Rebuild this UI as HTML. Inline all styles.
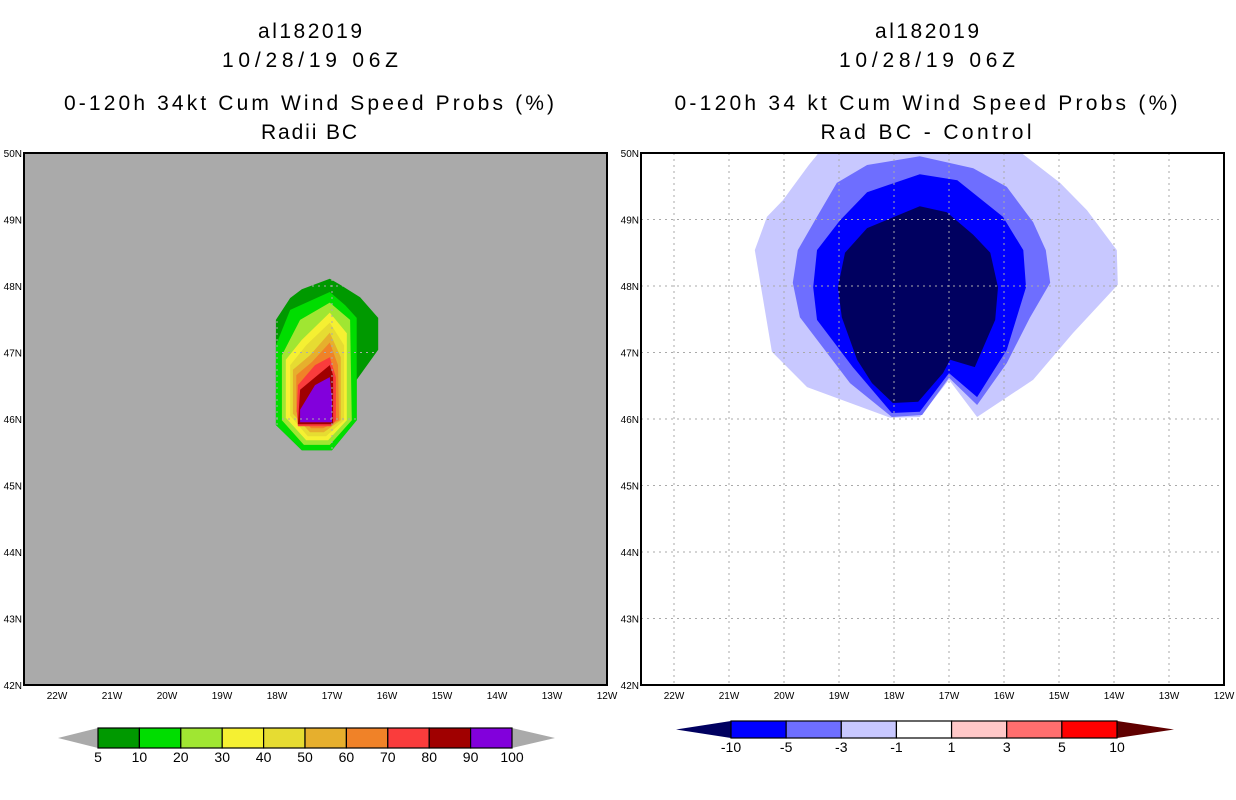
<!DOCTYPE html>
<html><head><meta charset="utf-8"><style>
html,body{margin:0;padding:0;background:#fff;}
svg{display:block;font-family:"Liberation Sans",sans-serif;}
</style></head><body>
<svg id="root" width="1236" height="800" viewBox="0 0 1236 800">
<g id="titles" font-size="21" fill="#000" text-anchor="middle">
<text x="310" y="38" textLength="104">al182019</text>
<text x="310" y="67" textLength="176">10/28/19 06Z</text>
<text x="309" y="110" textLength="490">0-120h 34kt Cum Wind Speed Probs (%)</text>
<text x="309" y="139" textLength="96">Radii BC</text>
<text x="927" y="38" textLength="104">al182019</text>
<text x="927" y="67" textLength="176">10/28/19 06Z</text>
<text x="926" y="110" textLength="503">0-120h 34 kt Cum Wind Speed Probs (%)</text>
<text x="926" y="139" textLength="211">Rad BC - Control</text>
</g>
<g id="left"></g>
<g id="right"></g>
<g id="cbars"></g>
</svg>
<script>
// axis tick data
const lonTicks = [22,21,20,19,18,17,16,15,14,13,12];
const latTicks = [50,49,48,47,46,45,44,43,42];
// left panel contour levels (lon W, lat N)
const leftColors = ["#009900","#00dd00","#a0e632","#f5f032","#e6dc32","#e6af2d","#f08228","#fa3c3c","#a00000","#8200dc"];
const leftLevels = [
 [[18.02,47.49],[17.76,47.82],[17.55,47.95],[17.04,48.11],[16.85,48.02],[16.49,47.83],[16.16,47.52],[16.16,47.04],[16.55,46.59],[16.55,45.98],[17.0,45.53],[17.55,45.53],[18.02,45.91]],
 [[18.02,47.11],[17.76,47.64],[17.04,47.91],[16.76,47.71],[16.55,47.52],[16.55,45.98],[17.0,45.53],[17.55,45.53],[18.02,45.91]],
 [[17.91,46.96],[17.58,47.49],[17.04,47.75],[16.67,47.49],[16.64,45.98],[17.04,45.61],[17.51,45.61],[17.91,45.98]],
 [[17.84,46.89],[17.55,47.19],[17.04,47.6],[16.73,47.29],[16.73,45.98],[17.07,45.68],[17.47,45.68],[17.84,46.02]],
 [[17.76,46.81],[17.47,47.11],[17.04,47.45],[16.78,47.11],[16.78,45.98],[17.11,45.74],[17.44,45.74],[17.76,46.05]],
 [[17.71,46.74],[17.4,46.96],[17.04,47.3],[16.84,46.93],[16.84,45.98],[17.15,45.8],[17.4,45.8],[17.71,46.08]],
 [[17.65,46.66],[17.36,46.86],[17.04,47.15],[16.89,46.81],[16.87,45.98],[17.16,45.86],[17.38,45.86],[17.65,46.11]],
 [[17.62,46.51],[17.31,46.81],[17.04,46.93],[16.93,46.63],[16.93,45.98],[17.02,45.89],[17.62,45.89],[17.64,46.11]],
 [[17.58,46.44],[17.04,46.81],[16.98,46.66],[16.98,45.92],[17.62,45.92]],
 [[17.58,46.14],[17.31,46.51],[17.04,46.63],[17.0,46.29],[17.0,45.95],[17.58,45.95]]
];
// right panel difference contours
const rightColors = ["#c8c8ff","#6e6eff","#0000ff","#000060"];
const rightLevels = [
 [[19.55,49.82],[19.4,49.97],[19.3,50.1],[15.84,50.1],[14.98,49.55],[14.49,49.14],[13.95,48.54],[13.93,48.02],[14.75,47.29],[15.47,46.59],[16.49,46.03],[17.0,46.59],[17.53,46.03],[18.07,46.02],[19.58,46.48],[20.22,47.01],[20.53,48.54],[20.31,49.04],[20.02,49.29]],
 [[19.04,49.55],[18.49,49.82],[17.53,49.95],[16.56,49.77],[15.95,49.49],[15.47,48.96],[15.24,48.54],[15.16,48.05],[15.53,47.52],[15.95,46.84],[16.49,46.21],[17.0,46.62],[17.49,46.06],[18.04,46.03],[18.8,46.54],[19.71,47.53],[19.84,48.05],[19.75,48.54],[19.4,49.04]],
 [[18.49,49.41],[17.53,49.68],[16.85,49.59],[16.02,49.04],[15.65,48.54],[15.6,47.98],[15.95,47.04],[16.49,46.33],[17.0,46.69],[17.53,46.11],[18.04,46.09],[18.75,46.78],[19.4,47.49],[19.47,47.98],[19.4,48.54],[18.98,48.99]],
 [[18.49,48.87],[17.53,49.2],[17.04,49.11],[16.56,48.77],[16.25,48.5],[16.11,47.98],[16.16,47.49],[16.53,46.78],[16.98,46.89],[17.11,46.69],[17.56,46.26],[18.02,46.24],[18.4,46.54],[18.67,46.89],[18.95,47.53],[19.02,47.98],[18.89,48.5]]
];
const leftBarLabels = ["5","10","20","30","40","50","60","70","80","90","100"];
const rightBarColors = ["#0000ff","#6e6eff","#c8c8ff","#ffffff","#ffc8c8","#ff6e6e","#ff0000"];
const rightBarLabels = ["-10","-5","-3","-1","1","3","5","10"];

const NS="http://www.w3.org/2000/svg";
function mk(tag,attrs,parent){const e=document.createElementNS(NS,tag);for(const k in attrs)e.setAttribute(k,attrs[k]);parent.appendChild(e);return e;}
function panel(g,X0,fillBg,levels,colors,gridColor,labelSide){
  const left=X0-33, right=X0+550, top=153, bottom=685;
  const xs=lon=>X0+(22-lon)*55, ys=lat=>153+(50-lat)*66.5;
  const clipId="clip"+X0;
  const cp=mk("clipPath",{id:clipId},g);mk("rect",{x:left,y:top,width:right-left,height:bottom-top},cp);
  const bg=mk("rect",{x:left,y:top,width:right-left,height:bottom-top,fill:fillBg},g);
  
  
  const cg=mk("g",{"clip-path":"url(#"+clipId+")"},g);
  levels.forEach((poly,i)=>{
    const p=mk("polygon",{points:poly.map(q=>xs(q[0]).toFixed(1)+","+ys(q[1]).toFixed(1)).join(" "),fill:colors[i]},cg);
    
    
  });
  lonTicks.forEach(l=>{
    const x=xs(l);
    if(x>left+1&&x<right-1){const ln=mk("line",{x1:x,x2:x,y1:top,y2:bottom,stroke:gridColor,"stroke-dasharray":"2,4"},g);
    
    }
    const t=mk("text",{x:x,y:699,"font-size":10,"text-anchor":"middle"},g);t.textContent=l+"W";
    
    
  });
  latTicks.forEach(l=>{
    const y=ys(l);
    if(y>top+1&&y<bottom-1){const ln=mk("line",{x1:left,x2:right,y1:y,y2:y,stroke:gridColor,"stroke-dasharray":"2,4"},g);
    
    }
    const t=mk("text",{x:left-2,y:y+4,"font-size":10,"text-anchor":"end"},g);t.textContent=l+"N";
    
    
  });
  const fr=mk("rect",{x:left,y:top,width:right-left,height:bottom-top,fill:"none",stroke:"#000","stroke-width":2},g);
  
  
}
panel(document.getElementById("left"),57,"#aaaaaa",leftLevels,leftColors,"#aaaaaa");
panel(document.getElementById("right"),674,"#ffffff",rightLevels,rightColors,"#aaaaaa");
// right panel left labels need to be placed left of its frame (x 641)
const cb=document.getElementById("cbars");
function colorbar(x0,x1,y0,y1,tipL,tipR,colors,labels,endL,endR,ly){
  const n=colors.length,w=(x1-x0)/n,ym=(y0+y1)/2;
  const a=mk("polygon",{points:`${x0},${y0} ${tipL},${ym} ${x0},${y1}`,fill:endL},cb);
  
  
  const b=mk("polygon",{points:`${x1},${y0} ${tipR},${ym} ${x1},${y1}`,fill:endR},cb);
  
  
  colors.forEach((c,i)=>{const r=mk("rect",{x:x0+i*w,y:y0,width:w,height:y1-y0,fill:c,stroke:"#000","stroke-width":1.2},cb);
    
    });
  labels.forEach((s,i)=>{const t=mk("text",{x:x0+i*w,y:ly,"font-size":14,"text-anchor":"middle"},cb);t.textContent=s;
    
    });
}
colorbar(98,512,728,748,58,555,leftColors,leftBarLabels,"#aaaaaa","#aaaaaa",762);
colorbar(731,1117,721,738,676,1174,rightBarColors,rightBarLabels,"#000060","#600000",752);
</script>
</body></html>
